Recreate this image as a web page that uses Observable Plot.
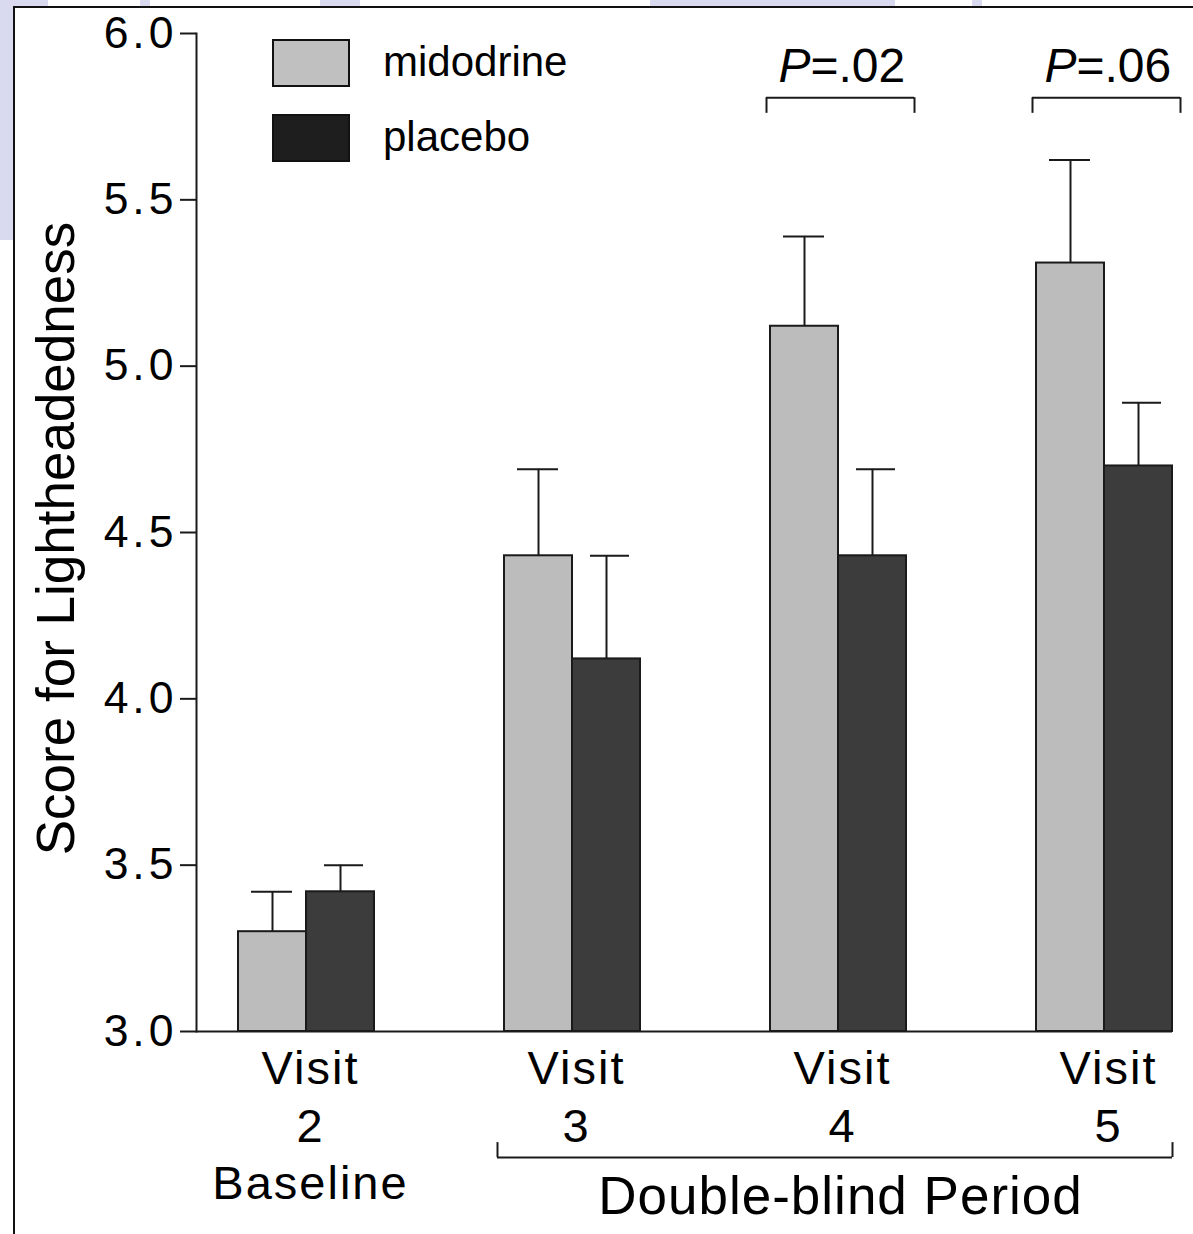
<!DOCTYPE html>
<html>
<head>
<meta charset="utf-8">
<script src="https://cdn.jsdelivr.net/npm/d3@7"></script>
<script src="https://cdn.jsdelivr.net/npm/@observablehq/plot@0.6"></script>
<style>
  html, body { margin: 0; padding: 0; background: #ffffff; }
  #page { position: relative; width: 1193px; height: 1234px; overflow: hidden; font-family: "Liberation Sans", Arial, sans-serif; background: #ffffff; }
  .wm { position: absolute; background: #d9d9ef; }
  #frame { position: absolute; left: 13px; top: 6px; right: -4px; bottom: -4px; border-left: 2px solid #111; border-top: 2px solid #111; background: #fff; }
  #chart { position: absolute; left: 0; top: 0; }
  .sw { position: absolute; left: 272px; width: 74px; height: 44px; border: 2px solid #111; }
  .lt { position: absolute; left: 383px; font-size: 42px; color: #000; line-height: 1; }
  g[aria-label="y-axis tick label"] text { letter-spacing: 4px; }
</style>
</head>
<body>
<div id="page">
  <div class="wm" style="left:0;top:0;width:13px;height:240px;"></div>
  <div class="wm" style="left:0;top:0;width:48px;height:6px;"></div>
  <div class="wm" style="left:140px;top:0;width:10px;height:6px;"></div>
  <div class="wm" style="left:320px;top:0;width:40px;height:6px;"></div>
  <div class="wm" style="left:650px;top:0;width:245px;height:6px;"></div>
  <div class="wm" style="left:972px;top:0;width:10px;height:6px;"></div>
  <div id="frame"></div>
  <div id="chart"></div>
  <div class="sw" style="top:39px;background:#c0c0c0;"></div>
  <div class="lt" style="top:41px;">midodrine</div>
  <div class="sw" style="top:114px;background:#1e1e1e;"></div>
  <div class="lt" style="top:116px;">placebo</div>
</div>
<script>
const visits = ["Visit 2", "Visit 3", "Visit 4", "Visit 5"];
const visitNumbers = ["2", "3", "4", "5"];
const visitPeriods = ["Baseline", "", "", ""];
const midodrine = [3.30, 4.43, 5.12, 5.31];
const midodrineSE = [0.12, 0.26, 0.27, 0.31];
const placebo = [3.42, 4.12, 4.43, 4.70];
const placeboSE = [0.08, 0.31, 0.26, 0.19];
const yTicks = [3.0, 3.5, 4.0, 4.5, 5.0, 5.5, 6.0];
const pVisits = ["Visit 4", "Visit 5"];
const pValues = ["=.02", "=.06"];
const yLabel = "Score for Lightheadedness";
const periodLabel = "Double-blind Period";
const periodStart = "Visit 3";
const periodMid = "Visit 4";
const periodEnd = "Visit 5";

const mido = visits.map((v, i) => ({visit: v, value: midodrine[i], hi: midodrine[i] + midodrineSE[i]}));
const plac = visits.map((v, i) => ({visit: v, value: placebo[i], hi: placebo[i] + placeboSE[i]}));
const xLabels = visits.map((v, i) => ({visit: v, text: "Visit\n" + visitNumbers[i] + (visitPeriods[i] ? "\n" + visitPeriods[i] : "")}));
const pData = pVisits.map((v, i) => ({visit: v, text: pValues[i]}));
// annotation levels (in score units)
const pLevel = 5.9;
const bracketTop = 5.807;
const bracketBottom = 5.76;
const periodLine = 2.621;
const periodLegTop = 2.666;

const FONT = "Liberation Sans, Arial, sans-serif";
const ink = "#1a1a1a";

const chart = Plot.plot({
  width: 1193,
  height: 1234,
  marginLeft: 196,
  marginRight: 21,
  marginTop: 33,
  marginBottom: 203,
  style: {fontFamily: FONT, background: "transparent", color: "#000", overflow: "visible"},
  x: {domain: visits, paddingInner: 0.49, paddingOuter: 0.075, align: 1, axis: null},
  y: {domain: [3, 6], axis: null},
  marks: [
    Plot.axisY({ticks: yTicks, tickFormat: d3.format(".1f"), tickSize: 16, tickPadding: 3, label: null, fontSize: 44.5, stroke: ink, strokeWidth: 2, fill: "#000"}),
    Plot.frame({anchor: "left", stroke: ink, strokeWidth: 2}),
    Plot.ruleY([3], {stroke: ink, strokeWidth: 2}),
    // error bars
    Plot.ruleX(mido, {x: "visit", y1: "value", y2: "hi", dx: -34, stroke: ink, strokeWidth: 2}),
    Plot.ruleX(plac, {x: "visit", y1: "value", y2: "hi", dx: 34, stroke: ink, strokeWidth: 2}),
    Plot.tickY(mido, {x: "visit", y: "hi", insetLeft: 13, insetRight: 82, stroke: ink, strokeWidth: 2}),
    Plot.tickY(plac, {x: "visit", y: "hi", insetLeft: 86, insetRight: 11, stroke: ink, strokeWidth: 2}),
    // bars
    Plot.barY(mido, {x: "visit", y1: 3, y2: "value", insetRight: 68, fill: "#bcbcbc", stroke: ink, strokeWidth: 2}),
    Plot.barY(plac, {x: "visit", y1: 3, y2: "value", insetLeft: 68, fill: "#3c3c3c", stroke: ink, strokeWidth: 2}),
    // significance brackets
    Plot.tickY(pData, {x: "visit", y: bracketTop, insetLeft: -4, insetRight: -8, stroke: ink, strokeWidth: 2}),
    Plot.ruleX(pData, {x: "visit", y1: bracketBottom, y2: bracketTop, dx: -72, stroke: ink, strokeWidth: 2}),
    Plot.ruleX(pData, {x: "visit", y1: bracketBottom, y2: bracketTop, dx: 76, stroke: ink, strokeWidth: 2}),
    Plot.text(pData, {x: "visit", y: pLevel, text: () => "P", fontStyle: "italic", textAnchor: "end", dx: -28, fontSize: 48, fill: "#000"}),
    Plot.text(pData, {x: "visit", y: pLevel, text: "text", textAnchor: "start", dx: -28, fontSize: 48, fill: "#000"}),
    // x labels
    Plot.text(xLabels, {x: "visit", text: "text", frameAnchor: "bottom", lineAnchor: "top", dy: 12, dx: 4, lineHeight: 1.22, fontSize: 47, fill: "#000", ariaLabel: () => "xlabels"}),
    // period bracket
    Plot.ruleY([periodLine], {x1: () => periodStart, x2: () => periodEnd, insetLeft: -7, stroke: ink, strokeWidth: 2}),
    Plot.ruleX([periodStart], {x: d => d, y1: periodLine, y2: periodLegTop, dx: -75, stroke: ink, strokeWidth: 2}),
    Plot.ruleX([periodEnd], {x: d => d, y1: periodLine, y2: periodLegTop, dx: 68, stroke: ink, strokeWidth: 2}),
    Plot.text([periodLabel], {x: () => periodMid, frameAnchor: "bottom", lineAnchor: "middle", dy: 166, dx: 2, fontSize: 53, fill: "#000", text: d => d, ariaLabel: () => "period"}),
    // y label
    Plot.text([yLabel], {frameAnchor: "left", rotate: -90, textAnchor: "middle", dx: -139, dy: 6, fontSize: 53, fill: "#000", text: d => d})
  ]
});
const svg = d3.select(chart);
svg.selectAll('text[aria-label="xlabels"]').style("letter-spacing", "2px");
svg.selectAll('text[aria-label="period"]').style("letter-spacing", "1px");
document.getElementById("chart").appendChild(chart);
</script>
</body>
</html>
